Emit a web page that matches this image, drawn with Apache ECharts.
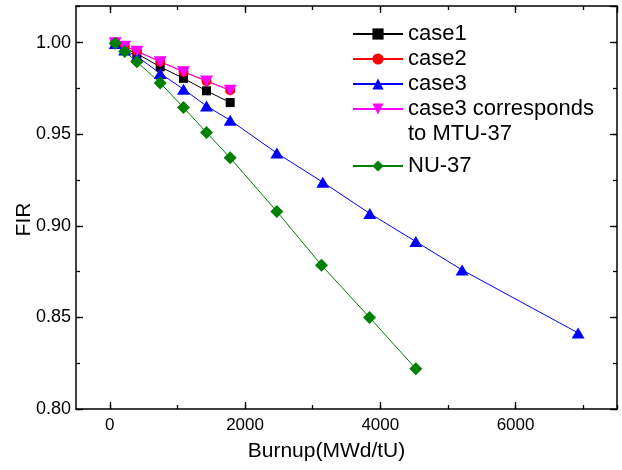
<!DOCTYPE html>
<html><head><meta charset="utf-8">
<script src="https://cdn.jsdelivr.net/npm/echarts@6/dist/echarts.min.js"></script>
<style>html,body{margin:0;padding:0;background:#fff}#c{width:622px;height:470px}</style>
</head><body><div id="c"></div>
<script>
// Burnup (MWd/tU) positions
const burnupShort = [80, 220, 400, 745, 1090, 1430, 1780];
const burnupCase3 = [80, 220, 400, 745, 1090, 1430, 1780, 2470, 3150, 3845, 4525, 5210, 6925];
const burnupNU = [80, 220, 400, 745, 1090, 1430, 1780, 2470, 3130, 3840, 4525];
// FIR values
const case1 = [0.9998, 0.9970, 0.9940, 0.9868, 0.9805, 0.9737, 0.9673];
const case2 = [1.0000, 0.9982, 0.9953, 0.9896, 0.9841, 0.9790, 0.9740];
const case3 = [0.9995, 0.9960, 0.9925, 0.9832, 0.9746, 0.9654, 0.9576, 0.9397, 0.9238, 0.9067, 0.8914, 0.8759, 0.8415];
const case3MTU = [1.0000, 0.9980, 0.9953, 0.9896, 0.9841, 0.9790, 0.9740];
const nu37 = [0.9997, 0.9951, 0.9896, 0.9780, 0.9646, 0.9509, 0.9371, 0.9078, 0.8785, 0.8500, 0.8220];
// Axis ranges and tick steps
const xRange = [-500, 7500];
const xTickRange = [0, 7500];
const yRange = [0.80, 1.02];
const xMajorStep = 2000, xMinorStep = 1000;
const yMajorStep = 0.05, yMinorStep = 0.025;
const seriesNames = ['case1', 'case2', 'case3', 'case3 corresponds to MTU-37', 'NU-37'];

const FONT = 'Liberation Sans';
const zip = (xs, ys) => ys.map((y, i) => [xs[i], y]);

// Geometry of the plotting area
const G = { left: 76, right: 5, top: 6, bottom: 61 };
const plotW = 622 - G.left - G.right;
const tickGridLeft = G.left + plotW * (xTickRange[0] - xRange[0]) / (xRange[1] - xRange[0]);

const lineStyle = { color: '#000', width: 1.5 };
const tickLine = { color: '#000', width: 1.3 };

function tickX(pos, step, len, showLabel) {
  return {
    type: 'value', gridIndex: 1, position: pos, min: xTickRange[0], max: xTickRange[1], interval: step,
    axisLine: { show: false },
    axisTick: { show: true, inside: true, length: len, lineStyle: tickLine },
    axisLabel: showLabel ? { show: true, showMaxLabel: false, margin: 8, color: '#000', fontSize: 17, fontFamily: FONT,
      formatter: v => String(v) } : { show: false },
    splitLine: { show: false }
  };
}
function yAx(pos, step, len, showLine, showLabel, extra) {
  return Object.assign({
    type: 'value', position: pos, min: yRange[0], max: yRange[1], interval: step,
    axisLine: { show: showLine, onZero: false, lineStyle: lineStyle },
    axisTick: { show: true, inside: true, length: len, lineStyle: tickLine },
    axisLabel: showLabel ? { show: true, showMinLabel: true, showMaxLabel: false, margin: 5, color: '#000', fontSize: 18, fontFamily: FONT,
      formatter: v => v.toFixed(2) } : { show: false },
    splitLine: { show: false }
  }, extra || {});
}

const chart = echarts.init(document.getElementById('c'), null, { renderer: 'canvas' });
chart.setOption({
  animation: false,
  backgroundColor: '#fff',
  grid: [
    Object.assign({ containLabel: false, outerBoundsMode: 'none' }, G),
    { left: tickGridLeft, right: G.right, top: G.top, bottom: G.bottom, containLabel: false, outerBoundsMode: 'none' }
  ],
  xAxis: [
    { type: 'value', gridIndex: 0, position: 'bottom', min: xRange[0], max: xRange[1],
      axisLine: { show: true, onZero: false, lineStyle: lineStyle },
      axisTick: { show: false }, axisLabel: { show: false }, splitLine: { show: false },
      name: 'Burnup(MWd/tU)', nameLocation: 'middle', nameGap: 32, nameMoveOverlap: false,
      nameTextStyle: { fontSize: 21, color: '#000', fontFamily: FONT, padding: [0, 40, 0, 0] } },
    { type: 'value', gridIndex: 0, position: 'top', min: xRange[0], max: xRange[1],
      axisLine: { show: true, onZero: false, lineStyle: lineStyle },
      axisTick: { show: false }, axisLabel: { show: false }, splitLine: { show: false } },
    tickX('bottom', xMajorStep, 7, true),
    tickX('bottom', xMinorStep, 4, false),
    tickX('top', xMajorStep, 7, false),
    tickX('top', xMinorStep, 4, false)
  ],
  yAxis: [
    yAx('left', yMajorStep, 7, true, true, {
      name: 'FIR', nameLocation: 'middle', nameGap: 41, nameMoveOverlap: false,
      nameTextStyle: { fontSize: 21, color: '#000', fontFamily: FONT, padding: [0, 24, 0, 0] }
    }),
    yAx('left', yMinorStep, 4, false, false),
    yAx('right', yMajorStep, 7, true, false),
    yAx('right', yMinorStep, 4, false, false),
    { type: 'value', gridIndex: 1, show: false, min: yRange[0], max: yRange[1] }
  ],
  legend: [{
    orient: 'vertical', left: 347, top: 18, itemWidth: 50, itemHeight: 14, itemGap: 3,
    data: seriesNames.slice(0, 4),
    formatter: n => n === 'case3 corresponds to MTU-37' ? 'case3 corresponds' : n,
    textStyle: { fontSize: 22, lineHeight: 22, color: '#000', fontFamily: FONT }
  }, {
    orient: 'vertical', left: 347, top: 150, itemWidth: 50, itemHeight: 14, itemGap: 3,
    data: seriesNames.slice(4),
    textStyle: { fontSize: 22, lineHeight: 22, color: '#000', fontFamily: FONT }
  }],
  graphic: [{
    type: 'text', left: 408, top: 123,
    style: { text: 'to MTU-37', fontSize: 22, fontFamily: FONT, fill: '#000' }
  }],
  series: [
    { name: seriesNames[0], type: 'line', data: zip(burnupShort, case1), symbol: 'rect', symbolSize: 9,
      itemStyle: { color: '#000' }, lineStyle: { color: '#000', width: 1 } },
    { name: seriesNames[1], type: 'line', data: zip(burnupShort, case2), symbol: 'circle', symbolSize: 10,
      itemStyle: { color: '#ff0000' }, lineStyle: { color: '#ff0000', width: 1 } },
    { name: seriesNames[2], type: 'line', data: zip(burnupCase3, case3), symbol: 'triangle', symbolSize: [13, 11],
      itemStyle: { color: '#0000ff' }, lineStyle: { color: '#0000ff', width: 1 } },
    { name: seriesNames[3], type: 'line', data: zip(burnupShort, case3MTU), symbol: 'triangle', symbolRotate: 180, symbolSize: [13, 11],
      itemStyle: { color: '#ff00ff' }, lineStyle: { color: '#ff00ff', width: 1 } },
    { name: seriesNames[4], type: 'line', data: zip(burnupNU, nu37), symbol: 'diamond', symbolSize: 13,
      itemStyle: { color: '#008000' }, lineStyle: { color: '#008000', width: 1 } }
  ]
});
</script>
</body></html>
